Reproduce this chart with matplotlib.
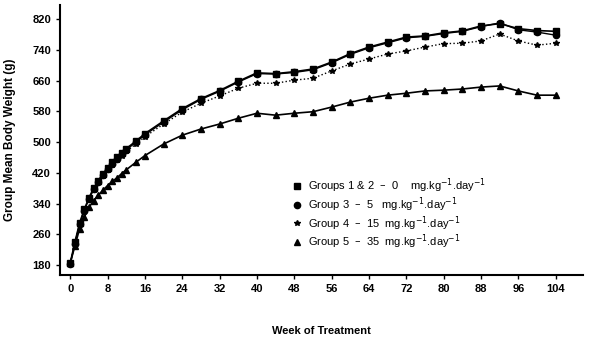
import matplotlib.pyplot as plt

plt.rcParams['font.family'] = ['Liberation Sans', 'DejaVu Sans']

weeks = [0, 1, 2, 3, 4, 5, 6, 7, 8, 9, 10, 11, 12, 14, 16, 20, 24, 28, 32, 36,
         40, 44, 48, 52, 56, 60, 64, 68, 72, 76, 80, 84, 88, 92, 96, 100, 104]

grp12 = [186, 240, 290, 325, 355, 380, 400, 418, 433, 447, 460, 472, 483, 502, 522,
         555, 587, 613, 634, 658, 680, 678, 683, 690, 708, 730, 747, 760, 773, 776,
         784, 789, 802, 808, 795, 790, 788]
grp3 = [184, 236, 287, 322, 352, 377, 397, 415, 430, 444, 457, 469, 480, 499, 519,
        552, 584, 611, 632, 656, 678, 677, 681, 688, 706, 728, 745, 758, 771, 775,
        782, 788, 800, 810, 792, 786, 778]
grp4 = [185, 238, 288, 322, 352, 376, 396, 413, 428, 441, 453, 465, 476, 494, 514,
        547, 578, 601, 620, 640, 653, 653, 661, 666, 685, 703, 716, 729, 737, 747,
        756, 757, 763, 781, 763, 752, 757]
grp5 = [186, 230, 275, 305, 330, 348, 362, 375, 387, 398, 407, 418, 428, 447, 465,
        495, 518, 534, 547, 562, 575, 570, 575, 579, 591, 604, 614, 622, 627, 633,
        635, 638, 643, 646, 633, 622, 622]

labels = ['Groups 1 & 2  \u2013  0    mg.kg$^{-1}$.day$^{-1}$',
          'Group 3  \u2013  5   mg.kg$^{-1}$.day$^{-1}$',
          'Group 4  \u2013  15  mg.kg$^{-1}$.day$^{-1}$',
          'Group 5  \u2013  35  mg.kg$^{-1}$.day$^{-1}$']

fig = plt.figure(figsize=(5.94, 3.44), dpi=100)
ax = fig.add_axes([0.101, 0.2, 0.88, 0.785])

ax.plot(weeks, grp12, color='black', lw=1.2, marker='s', ms=4, label=labels[0])
ax.plot(weeks, grp3, color='black', lw=1.0, marker='o', ms=4.5, label=labels[1])
ax.plot(weeks, grp4, color='black', lw=1.0, ls=':', marker='*', ms=4, label=labels[2])
ax.plot(weeks, grp5, color='black', lw=1.2, marker='^', ms=4, label=labels[3])

ax.set_xlim(-2.2, 109.8)
ax.set_ylim(154, 856)
ax.set_xticks(range(0, 105, 8))
ax.set_yticks(range(180, 821, 80))
ax.spines['top'].set_visible(False)
ax.spines['right'].set_visible(False)
ax.spines['left'].set_linewidth(1.5)
ax.spines['bottom'].set_linewidth(1.5)
ax.tick_params(labelsize=8, length=3, width=1)
for t in ax.get_xticklabels() + ax.get_yticklabels():
    t.set_fontweight('bold')

ax.set_xlabel('Week of Treatment', fontsize=8, fontweight='bold', labelpad=23)
ax.set_ylabel('Group Mean Body Weight (g)', fontsize=8.5, fontweight='bold', labelpad=12)

leg = ax.legend(loc='lower left', bbox_to_anchor=(0.43, 0.06), frameon=False,
                fontsize=8, handlelength=0.8, handletextpad=0.6,
                labelspacing=0.0, borderpad=0.2)
for h in leg.legend_handles:
    h.set_linestyle('None')

fig.savefig('out.png', dpi=100)
